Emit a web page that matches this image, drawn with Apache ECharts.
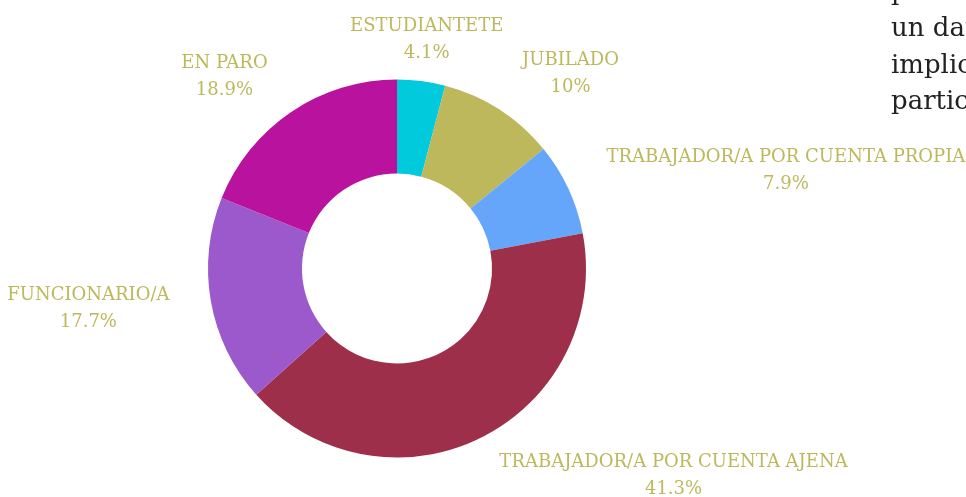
<!DOCTYPE html>
<html>
<head>
<meta charset="utf-8">
<script src="https://cdn.jsdelivr.net/npm/echarts@6/dist/echarts.min.js"></script>
<style>
  html, body { margin: 0; padding: 0; background: #fff; }
  #chart { width: 966px; height: 497px; }
</style>
</head>
<body>
<div id="chart"></div>
<script>
// situación laboral, % de respuestas
const categories = [
  "ESTUDIANTETE",
  "JUBILADO",
  "TRABAJADOR/A POR CUENTA PROPIA",
  "TRABAJADOR/A POR CUENTA AJENA",
  "FUNCIONARIO/A",
  "EN PARO"
]
const percentages = [4.1, 10, 7.9, 41.3, 17.7, 18.9]
const colors = ["#00CADC", "#BDB85C", "#66A6FA", "#9E2F4A", "#9B59CC", "#B9129E"]

// trozos de texto de la página que se solapan arriba a la derecha
const pageText = ["p", "un dato", "implica", "participa"]

const chart = echarts.init(document.getElementById("chart"))

const labelFont = "'DejaVu Serif', 'Liberation Serif', serif"

chart.setOption({
  animation: false,
  color: colors,
  graphic: pageText.map(function (t, i) {
    return {
      type: "text",
      left: 891,
      top: -20 + i * 36.5,
      style: {
        text: t,
        font: "26px " + labelFont,
        fill: "#222"
      }
    }
  }),
  series: [
    {
      type: "pie",
      center: [397, 268.5],
      radius: [95, 189],
      startAngle: 90,
      clockwise: true,
      avoidLabelOverlap: false,
      data: categories.map(function (name, i) {
        return { name: name, value: percentages[i] }
      }),
      label: {
        show: true,
        position: "outside",
        formatter: "{b}\n{c}%",
        color: "#BDB85C",
        fontFamily: labelFont,
        fontSize: 18,
        lineHeight: 27,
        distanceToLabelLine: 0
      },
      labelLine: {
        show: false,
        length: 42,
        length2: 0
      },
      labelLayout: function (params) {
        const r = params.labelRect
        // centrar las dos líneas del rótulo; el de arriba queda centrado en su ancla
        const cx = params.dataIndex === 0 ? r.x : r.x + r.width / 2
        return {
          x: cx,
          y: r.y + r.height / 2,
          align: "center",
          verticalAlign: "middle"
        }
      },
      itemStyle: { borderWidth: 0 },
      emphasis: { disabled: true }
    }
  ]
})
</script>
</body>
</html>
